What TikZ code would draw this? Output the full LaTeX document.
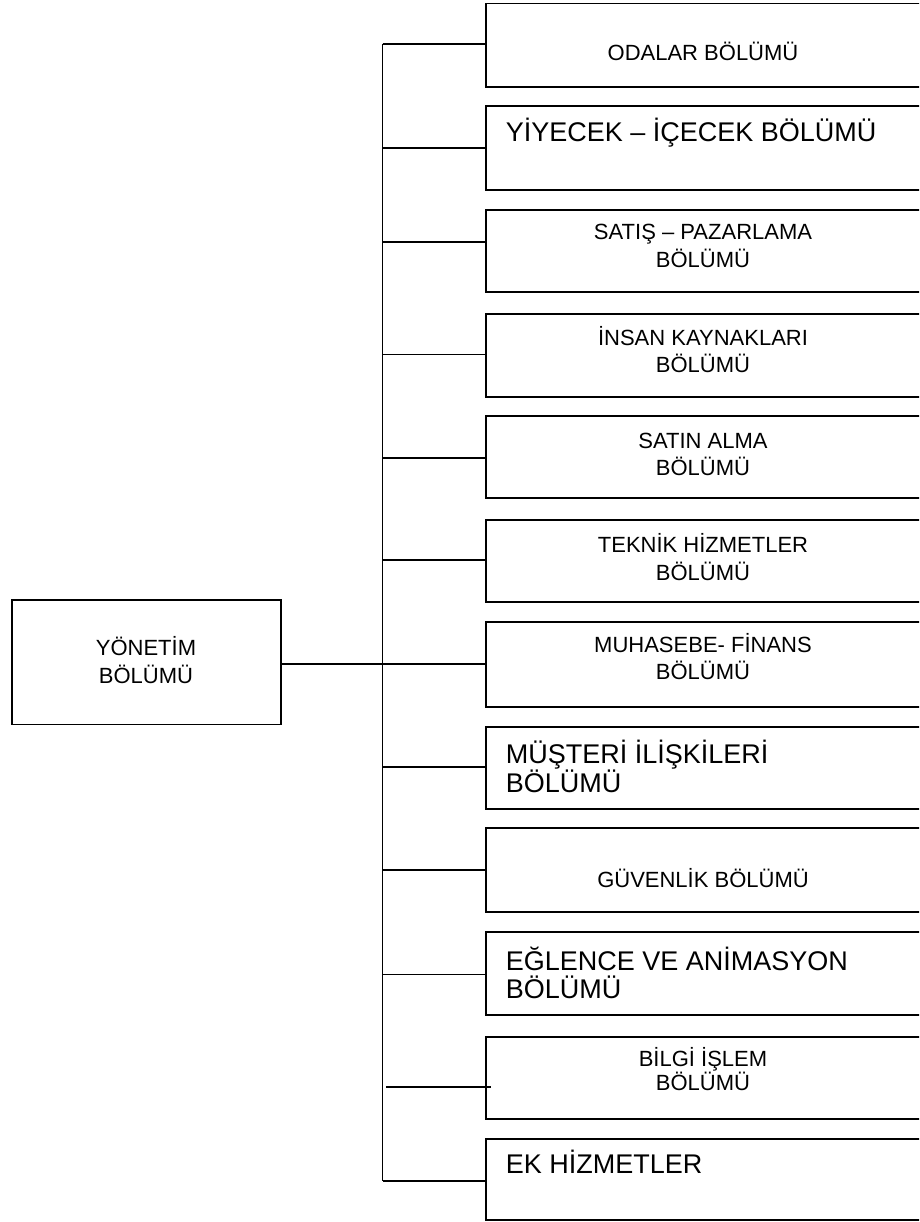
\documentclass[tikz,border=0pt]{standalone}
\usepackage{fontspec}
\setmainfont{Liberation Sans}
\begin{document}
\begin{tikzpicture}[x=1pt,y=-1pt,line width=1.6pt,
  boxnode/.style={draw,rectangle,inner sep=0pt,outer sep=0pt,anchor=north west,minimum width=460pt},
  sm/.style={inner sep=0pt,anchor=base,font=\fontsize{22}{26}\selectfont},
  lg/.style={inner sep=0pt,anchor=base west,font=\fontsize{27}{30}\selectfont}]
\useasboundingbox (0,0) rectangle (919,1222);
\clip (0,0) rectangle (919,1222);
% left box
\node[draw,rectangle,inner sep=0pt,outer sep=0pt,minimum width=269pt,minimum height=124.3pt] (yon) at (146.2,662.15) {};
\node[sm] (tya) at (146,655) {YÖNETİM};
\node[sm] (tyb) at (146,683) {BÖLÜMÜ};
% right boxes
\node[boxnode,minimum height=83.5pt] (b1) at (485.9,3.5) {};
\node[boxnode,minimum height=84pt] (b2) at (485.9,106) {};
\node[boxnode,minimum height=82pt] (b3) at (485.9,210) {};
\node[boxnode,minimum height=83pt] (b4) at (485.9,314) {};
\node[boxnode,minimum height=82pt] (b5) at (485.9,416) {};
\node[boxnode,minimum height=82pt] (b6) at (485.9,520) {};
\node[boxnode,minimum height=85pt] (b7) at (485.9,622) {};
\node[boxnode,minimum height=82pt] (b8) at (485.9,727) {};
\node[boxnode,minimum height=84pt] (b9) at (485.9,828) {};
\node[boxnode,minimum height=83pt] (b10) at (485.9,932) {};
\node[boxnode,minimum height=82pt] (b11) at (485.9,1037) {};
\node[boxnode,minimum height=81pt] (b12) at (485.9,1139) {};
% texts
\node[sm] (t1) at (703,61) {ODALAR BÖLÜMÜ};
\node[lg] (t2) at (505,141.7) {YİYECEK – İÇECEK BÖLÜMÜ};
\node[sm] (t3a) at (703,240) {SATIŞ – PAZARLAMA};
\node[sm] (t3b) at (703,268) {BÖLÜMÜ};
\node[sm] (t4a) at (703,345.5) {İNSAN KAYNAKLARI};
\node[sm] (t4b) at (703,372) {BÖLÜMÜ};
\node[sm] (t5a) at (703,448) {SATIN ALMA};
\node[sm] (t5b) at (703,475) {BÖLÜMÜ};
\node[sm] (t6a) at (703,552) {TEKNİK HİZMETLER};
\node[sm] (t6b) at (703,580) {BÖLÜMÜ};
\node[sm] (t7a) at (703,652) {MUHASEBE- FİNANS};
\node[sm] (t7b) at (703,679) {BÖLÜMÜ};
\node[lg] (t8a) at (505,763) {MÜŞTERİ İLİŞKİLERİ};
\node[lg] (t8b) at (505,792) {BÖLÜMÜ};
\node[sm] (t9) at (703,887) {GÜVENLİK BÖLÜMÜ};
\node[lg] (t10a) at (505,970) {EĞLENCE VE ANİMASYON};
\node[lg] (t10b) at (505,998) {BÖLÜMÜ};
\node[sm] (t11a) at (703,1066) {BİLGİ İŞLEM};
\node[sm] (t11b) at (703,1090) {BÖLÜMÜ};
\node[lg] (t12) at (505,1173) {EK HİZMETLER};
% trunk junctions
\coordinate (j1) at (382.5,43.8);
\coordinate (j2) at (382.5,148.3);
\coordinate (j3) at (382.5,242.3);
\coordinate (j4) at (382.5,354.3);
\coordinate (j5) at (382.5,457.7);
\coordinate (j6) at (382.5,560);
\coordinate (j7) at (382.5,664);
\coordinate (j8) at (382.5,766.7);
\coordinate (j9) at (382.5,870);
\coordinate (j10) at (382.5,974.5);
\coordinate (j12) at (382.5,1180.7);
\coordinate (c11a) at (386,1086.7);
\coordinate (c11b) at (490.8,1086.7);
% connectors
\draw (j1) -- (j12);
\draw (yon.east |- j7) -- (j7) -- (j7 -| b7.west);
\foreach \i in {1,2,3,4,5,6,8,9,10,12}{
  \draw (j\i) -- (j\i -| b\i.west);
}
\draw (c11a) -- (c11b);
\end{tikzpicture}
\end{document}
